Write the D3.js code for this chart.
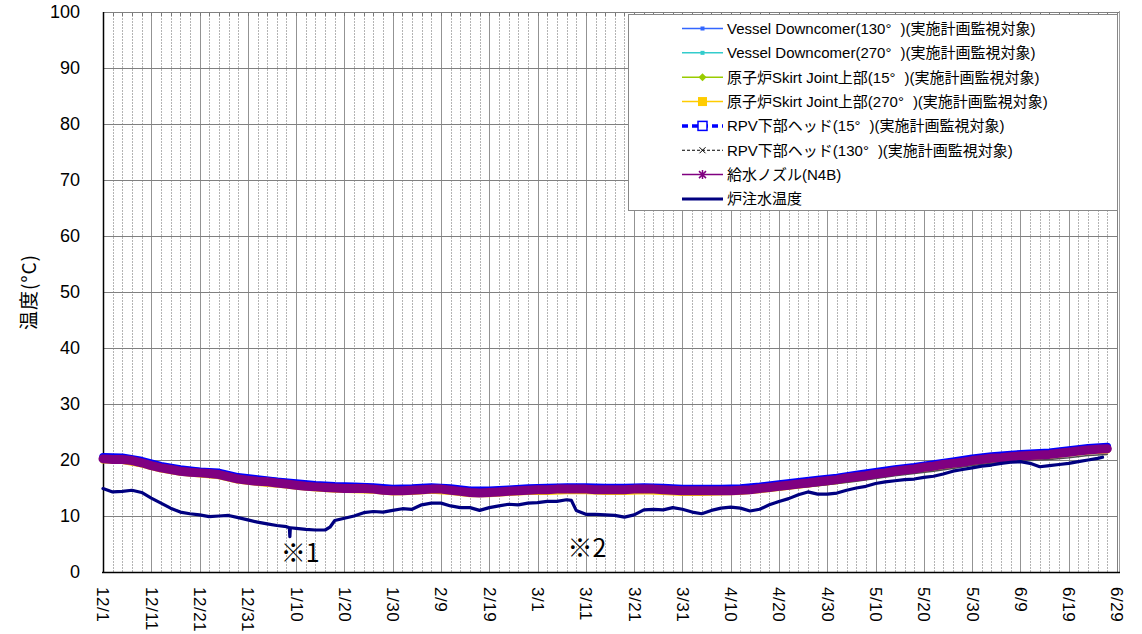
<!DOCTYPE html>
<html><head><meta charset="utf-8">
<script src="https://cdn.jsdelivr.net/npm/d3@7"></script>
<style>
html,body{margin:0;padding:0;background:#fff;}
svg{display:block;}
text{font-family:"Liberation Sans","Noto Sans CJK JP",Arial,sans-serif;}
</style></head>
<body>
<svg id="chart" width="1142" height="634"></svg>
<script>
// ---- data (day offsets from 2012-12-01) ----
const tickDays = [0,10,20,30,40,50,60,70,80,90,100,110,120,130,140,150,160,170,180,190,200,210];
const tickLabels = ["12/1","12/11","12/21","12/31","1/10","1/20","1/30","2/9","2/19","3/1","3/11","3/21","3/31","4/10","4/20","4/30","5/10","5/20","5/30","6/9","6/19","6/29"];
const yTicks = [0,10,20,30,40,50,60,70,80,90,100];

// 2-day sampling for the feedwater nozzle series
const days2 = d3.range(0, 209, 2);
const feedNozzle = [
  20.2,20.1,20.1,19.9,19.5,19.0,18.6,18.3,18.0,17.8,
  17.7,17.6,17.4,17.0,16.6,16.4,16.2,16.1,15.9,15.7,
  15.5,15.3,15.2,15.1,15.0,14.9,14.9,14.9,14.8,14.6,
  14.5,14.5,14.6,14.7,14.8,14.8,14.6,14.4,14.2,14.1,
  14.2,14.3,14.4,14.5,14.6,14.7,14.7,14.8,14.8,14.8,
  14.8,14.7,14.7,14.7,14.7,14.8,14.8,14.8,14.7,14.6,
  14.5,14.5,14.5,14.5,14.5,14.5,14.6,14.7,14.9,15.1,
  15.3,15.5,15.7,15.9,16.1,16.3,16.5,16.8,17.0,17.2,
  17.5,17.7,18.0,18.2,18.4,18.7,18.9,19.2,19.4,19.6,
  19.9,20.1,20.3,20.4,20.6,20.7,20.8,20.9,21.0,21.2,
  21.4,21.6,21.8,21.9,22.0];

// 4-day sampling for the other vessel thermocouples
const days4 = d3.range(0, 209, 4);
const vd130 = [20.5,20.4,19.8,18.9,18.3,18.0,17.7,16.9,16.5,16.2,15.8,15.5,15.3,15.2,15.1,14.8,14.9,15.1,14.9,14.5,14.5,14.7,14.9,15.0,15.1,15.1,15.0,15.0,15.1,15.0,14.8,14.8,14.8,14.9,15.2,15.6,16.0,16.4,16.8,17.3,17.8,18.3,18.7,19.2,19.7,20.2,20.6,20.9,21.1,21.3,21.7,22.1,22.3];
const vd270 = [20.3,20.2,19.6,18.7,18.1,17.8,17.5,16.7,16.3,16.0,15.6,15.3,15.1,15.0,14.9,14.6,14.7,14.9,14.7,14.3,14.3,14.5,14.7,14.8,14.9,14.9,14.8,14.8,14.9,14.8,14.6,14.6,14.6,14.7,15.0,15.4,15.8,16.2,16.6,17.1,17.6,18.1,18.5,19.0,19.5,20.0,20.4,20.7,20.9,21.1,21.5,21.9,22.1];
const skirt15 = [20.0,19.9,19.3,18.4,17.8,17.5,17.2,16.4,16.0,15.7,15.3,15.0,14.8,14.7,14.6,14.3,14.4,14.6,14.4,14.0,14.0,14.2,14.4,14.5,14.6,14.6,14.5,14.5,14.6,14.5,14.3,14.3,14.3,14.4,14.7,15.1,15.5,15.9,16.3,16.8,17.3,17.8,18.2,18.7,19.2,19.7,20.1,20.4,20.6,20.8,21.2,21.6,21.8];
const skirt270 = [19.9,19.8,19.2,18.3,17.7,17.4,17.1,16.3,15.9,15.6,15.2,14.9,14.7,14.6,14.5,14.2,14.3,14.5,14.3,13.9,13.9,14.1,14.3,14.3,14.4,14.4,14.3,14.3,14.4,14.3,14.1,14.1,14.2,14.3,14.6,15.0,15.4,15.8,16.2,16.7,17.2,17.7,18.1,18.6,19.1,19.6,20.0,20.3,20.5,20.7,21.1,21.5,21.7];
const rpv15 = [20.6,20.5,19.9,19.0,18.4,18.0,17.8,17.0,16.6,16.2,15.9,15.6,15.4,15.3,15.2,14.9,15.0,15.2,15.0,14.6,14.6,14.8,15.0,15.1,15.2,15.2,15.1,15.1,15.2,15.1,14.9,14.9,14.9,15.0,15.3,15.7,16.1,16.5,16.9,17.4,17.9,18.4,18.8,19.3,19.8,20.3,20.7,21.0,21.2,21.4,21.8,22.2,22.4];
const rpv130 = [19.8,19.7,19.1,18.2,17.6,17.3,17.0,16.2,15.8,15.5,15.1,14.8,14.6,14.5,14.4,14.1,14.2,14.4,14.2,13.8,13.8,14.0,14.2,14.3,14.4,14.4,14.3,14.3,14.4,14.3,14.1,14.1,14.1,14.1,14.4,14.7,15.1,15.4,15.8,16.2,16.7,17.2,17.6,18.0,18.5,19.0,19.4,19.7,19.9,20.1,20.4,20.8,21.0];

// reactor injection water temperature
const injDays = [0,2,4,6,8,10,12,14,16,18,20,22,24,26,28,30,32,34,36,38,38.6,38.7,38.8,40,42,44,46,47,48,50,
  52,54,56,58,60,62,64,66,68,70,72,74,76,78,80,82,84,86,88,90,92,94,96,97,98,100,102,104,106,108,
  110,112,114,116,118,120,122,124,126,128,130,132,134,136,138,140,142,144,146,148,150,152,154,156,158,160,
  162,164,166,168,170,172,174,176,178,180,182,184,186,188,190,192,194,196,198,200,202,204,206,207];
const injTemp = [14.9,14.3,14.4,14.6,14.2,13.2,12.3,11.4,10.7,10.4,10.2,9.9,10.0,10.1,9.7,9.3,8.9,8.6,8.3,8.1,7.9,6.3,7.9,7.8,7.6,7.5,7.5,8.0,9.2,9.6,
  10.0,10.6,10.8,10.7,11.0,11.3,11.2,12.0,12.3,12.3,11.8,11.5,11.5,11.0,11.5,11.8,12.1,12.0,12.3,12.4,12.6,12.6,12.9,12.8,11.0,10.3,10.3,10.2,10.1,9.8,
  10.2,11.1,11.2,11.1,11.5,11.2,10.7,10.4,11.0,11.4,11.6,11.4,10.9,11.2,12.0,12.6,13.1,13.8,14.3,13.9,13.9,14.1,14.6,15.0,15.3,15.8,
  16.1,16.3,16.5,16.6,16.9,17.1,17.5,18.0,18.3,18.6,18.9,19.1,19.4,19.6,19.7,19.4,18.8,19.0,19.2,19.4,19.7,20.0,20.3,20.5];

// legend labels split around the degree sign: [before, "°", after]
const legendNames = [
  ["Vessel Downcomer(130", "°", ")(実施計画監視対象)"],
  ["Vessel Downcomer(270", "°", ")(実施計画監視対象)"],
  ["原子炉Skirt Joint上部(15", "°", ")(実施計画監視対象)"],
  ["原子炉Skirt Joint上部(270", "°", ")(実施計画監視対象)"],
  ["RPV下部ヘッド(15", "°", ")(実施計画監視対象)"],
  ["RPV下部ヘッド(130", "°", ")(実施計画監視対象)"],
  ["給水ノズル(N4B)", "", ""],
  ["炉注水温度", "", ""]
];
const notes = [{day:36.8, label:"※1", y:1.7}, {day:96.2, label:"※2", y:2.6}];

// ---- layout ----
const svg = d3.select("#chart");
const L = 103, R = 1117, T = 12, B = 572;
const x = d3.scaleLinear().domain([0, 210]).range([L, R]);
const y = d3.scaleLinear().domain([0, 100]).range([B, T]);

// grid
const grid = svg.append("g");
grid.selectAll("line.v").data(d3.range(2, 210, 2)).join("line")
  .attr("x1", d => Math.round(x(d)) + 0.5).attr("x2", d => Math.round(x(d)) + 0.5)
  .attr("y1", T).attr("y2", B)
  .attr("stroke", d => d % 10 === 0 ? "#939393" : "#b4b4b4")
  .attr("stroke-width", 1)
  .attr("stroke-dasharray", d => d % 10 === 0 ? null : "2,1");
grid.selectAll("line.h").data(yTicks.filter(v => v > 0 && v < 100)).join("line")
  .attr("x1", L).attr("x2", R)
  .attr("y1", d => Math.round(y(d)) + 0.5).attr("y2", d => Math.round(y(d)) + 0.5)
  .attr("stroke", "#808080").attr("stroke-width", 1);
// small ticks under the top border
grid.selectAll("line.tt").data(d3.range(2, 210, 2)).join("line")
  .attr("x1", d => Math.round(x(d)) + 0.5).attr("x2", d => Math.round(x(d)) + 0.5)
  .attr("y1", T).attr("y2", T + 4).attr("stroke", "#777");

// borders
svg.append("line").attr("x1", L).attr("x2", R + 2).attr("y1", T + 0.5).attr("y2", T + 0.5).attr("stroke", "#808080");
svg.append("line").attr("x1", R + 0.5).attr("x2", R + 0.5).attr("y1", T).attr("y2", B).attr("stroke", "#808080");
svg.append("line").attr("x1", R + 2.5).attr("x2", R + 2.5).attr("y1", T - 1).attr("y2", B).attr("stroke", "#a0a0a0");
svg.append("line").attr("x1", L - 1).attr("x2", R + 3).attr("y1", B + 0.5).attr("y2", B + 0.5).attr("stroke", "#000").attr("stroke-width", 1.5);
svg.append("line").attr("x1", L + 0.5).attr("x2", L + 0.5).attr("y1", T).attr("y2", B).attr("stroke", "#000").attr("stroke-width", 1.5);

// axes
const yAxis = svg.append("g").attr("transform", `translate(${L},0)`)
  .call(d3.axisLeft(y).tickValues(yTicks).tickSize(0).tickPadding(23));
yAxis.select(".domain").remove();
yAxis.selectAll("text").attr("font-size", 18).attr("fill", "#000")
  .style("font-family", '"Liberation Sans", Arial, sans-serif');

const xAxis = svg.append("g").attr("transform", `translate(0,${B})`)
  .call(d3.axisBottom(x).tickValues(tickDays).tickFormat((d, i) => tickLabels[i]).tickSize(0));
xAxis.select(".domain").remove();
xAxis.selectAll("text")
  .attr("y", 0).attr("x", 0).attr("dy", "0.36em")
  .attr("transform", "translate(0,15) rotate(90)")
  .style("text-anchor", "start")
  .attr("font-size", 17).attr("letter-spacing", 0.5).attr("fill", "#000")
  .style("font-family", '"Liberation Sans", Arial, sans-serif');

svg.append("text").attr("transform", "translate(29,292) rotate(-90)")
  .attr("text-anchor", "middle").attr("dy", "0.36em").attr("font-size", 19).attr("letter-spacing", 1).attr("fill", "#000")
  .style("font-family", '"Noto Sans CJK JP", sans-serif')
  .text("温度(°C)");

// series
const line = d3.line().x(d => x(d[0])).y(d => y(d[1]));
const plot = svg.append("g");
function drawSeries(days, vals, color, width, dash) {
  plot.append("path").datum(d3.zip(days, vals))
    .attr("d", line).attr("fill", "none")
    .attr("stroke", color).attr("stroke-width", width)
    .attr("stroke-linejoin", "round").attr("stroke-linecap", "round")
    .attr("stroke-dasharray", dash || null);
}
drawSeries(days4, vd130, "#3366FF", 7);
drawSeries(days4, vd270, "#33CCCC", 6);
drawSeries(days4, skirt15, "#99CC00", 6);
drawSeries(days4, skirt270, "#FFCC00", 6);
drawSeries(days4, rpv15, "#0000FF", 7.5);
drawSeries(days4, rpv130, "#505050", 1.5);
drawSeries(days2, feedNozzle, "#800080", 9);
drawSeries(injDays, injTemp, "#000080", 3.2);

// notes
svg.selectAll("text.note").data(notes).join("text").attr("class", "note")
  .attr("x", d => x(d.day)).attr("y", d => y(d.y))
  .attr("font-size", 25).attr("fill", "#000")
  .style("font-family", '"Noto Sans CJK JP", sans-serif')
  .text(d => d.label);

// legend
const lg = svg.append("g");
lg.append("rect").attr("x", 628.5).attr("y", 14.5).attr("width", 489).attr("height", 196)
  .attr("fill", "#fff").attr("stroke", "#888");
const styles = [
  {c:"#3366FF", w:1.5, m:"sq", s:4},
  {c:"#33CCCC", w:1.5, m:"sq", s:4},
  {c:"#99CC00", w:1.5, m:"dia", s:8},
  {c:"#FFCC00", w:1.5, m:"sq", s:9},
  {c:"#0000FF", w:3.5, m:"hollow", s:9, dash:"6,4"},
  {c:"#000000", w:1, m:"x", s:6, dash:"3,2"},
  {c:"#800080", w:1.5, m:"ast", s:7},
  {c:"#000080", w:3, m:null}
];
legendNames.forEach((parts, i) => {
  const cy = 28.5 + i * 24.35, st = styles[i];
  const g = lg.append("g");
  g.append("line").attr("x1", 682).attr("x2", 723).attr("y1", cy).attr("y2", cy)
    .attr("stroke", st.c).attr("stroke-width", st.w).attr("stroke-dasharray", st.dash || null);
  const mx = 702.5, s = st.s;
  if (st.m === "sq") g.append("rect").attr("x", mx - s/2).attr("y", cy - s/2).attr("width", s).attr("height", s).attr("fill", st.c);
  if (st.m === "hollow") g.append("rect").attr("x", mx - s/2).attr("y", cy - s/2).attr("width", s).attr("height", s).attr("fill", "#fff").attr("stroke", st.c).attr("stroke-width", 1.5);
  if (st.m === "dia") g.append("path").attr("d", `M${mx},${cy-s/2}L${mx+s/2},${cy}L${mx},${cy+s/2}L${mx-s/2},${cy}Z`).attr("fill", st.c);
  if (st.m === "x") g.append("path").attr("d", `M${mx-s/2},${cy-s/2}L${mx+s/2},${cy+s/2}M${mx-s/2},${cy+s/2}L${mx+s/2},${cy-s/2}`).attr("stroke", st.c).attr("stroke-width", 1);
  if (st.m === "ast") g.append("path").attr("d", `M${mx-s/2},${cy-s/2}L${mx+s/2},${cy+s/2}M${mx-s/2},${cy+s/2}L${mx+s/2},${cy-s/2}M${mx},${cy-s/2-1}L${mx},${cy+s/2+1}`).attr("stroke", st.c).attr("stroke-width", 1.5);
  const t = g.append("text").attr("x", 727).attr("y", cy).attr("dy", "0.36em")
    .attr("font-size", 15).attr("fill", "#000");
  t.append("tspan").text(parts[0]);
  if (parts[1]) t.append("tspan").text(parts[1]);
  if (parts[2]) t.append("tspan").attr("dx", 9).text(parts[2]);
});
</script>
</body></html>
